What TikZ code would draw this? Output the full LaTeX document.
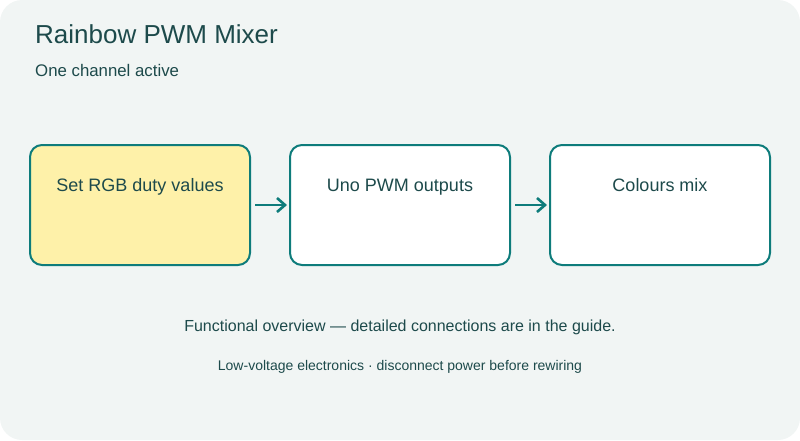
\documentclass[tikz,border=0pt]{standalone}
\usepackage{fontspec}
\setmainfont{Liberation Sans}
\usetikzlibrary{arrows.meta}
\definecolor{bgc}{HTML}{F1F5F4}
\definecolor{ink}{HTML}{1D4A4B}
\definecolor{teal}{HTML}{0E7C7B}
\definecolor{hl}{HTML}{FEF1A9}
\tikzset{
  stagebox/.style={draw=teal, line width=2pt, rounded corners=12pt, minimum width=220pt, minimum height=120pt, inner sep=0pt, fill=white},
  boxtext/.style={anchor=base, font=\fontsize{18pt}{20pt}\selectfont, text=ink, inner sep=0pt},
  flow/.style={draw=teal, line width=2.6pt, -{Straight Barb[length=8pt,width=14pt,line width=2.6pt]}},
}
\begin{document}
\begin{tikzpicture}[x=1pt,y=-1pt]
\useasboundingbox (0,0) rectangle (800,440);
\fill[bgc, rounded corners=22pt] (0,0) rectangle (800,440);
\node[anchor=base west, inner sep=0pt, text=ink, font=\fontsize{26pt}{30pt}\selectfont] (title) at (35,43) {Rainbow PWM Mixer};
\node[anchor=base west, inner sep=0pt, text=ink, font=\fontsize{16.8pt}{20pt}\selectfont] (sub) at (35,76) {One channel active};
\node[stagebox, fill=hl] (b1) at (140,205) {};
\node[stagebox] (b2) at (400,205) {};
\node[stagebox] (b3) at (660,205) {};
\node[boxtext] (t1) at (140,191) {Set RGB duty values};
\node[boxtext] (t2) at (400,191) {Uno PWM outputs};
\node[boxtext] (t3) at (660,191) {Colours mix};
\draw[flow] ([xshift=4pt]b1.east) -- ([xshift=-2pt]b2.west);
\draw[flow] ([xshift=4pt]b2.east) -- ([xshift=-2pt]b3.west);
\node[anchor=base, inner sep=0pt, text=ink, font=\fontsize{16pt}{18pt}\selectfont] (f1) at (400,331) {Functional overview — detailed connections are in the guide.};
\node[anchor=base, inner sep=0pt, text=ink, font=\fontsize{14pt}{16pt}\selectfont] (f2) at (400,370) {Low-voltage electronics · disconnect power before rewiring};
\end{tikzpicture}
\end{document}
